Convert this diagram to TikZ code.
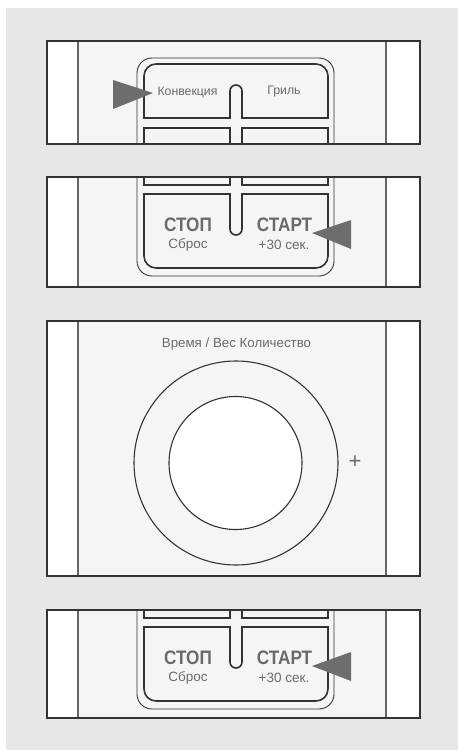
\documentclass[tikz,border=0pt]{standalone}
\usepackage{fontspec}
\setmainfont{Liberation Sans}
\definecolor{pagegray}{HTML}{E6E7E6}
\definecolor{panelfill}{HTML}{F5F5F5}
\definecolor{edge}{HTML}{333333}
\definecolor{stripline}{HTML}{666666}
\definecolor{txt}{HTML}{6A6A6A}
\definecolor{tri}{HTML}{6D6D6D}
\tikzset{
  keyline/.style={draw=edge, line width=1.6pt, fill=panelfill},
  outerline/.style={draw=edge, line width=0.9pt, fill=panelfill},
  lbl/.style={text=txt, inner sep=0pt, font=\fontsize{12.3}{12.3}\selectfont},
  sublbl/.style={text=txt, inner sep=0pt, font=\fontsize{13.5}{13.5}\selectfont},
  biglbl/.style={text=txt, inner sep=0pt, font=\fontsize{19.5}{19.5}\selectfont\bfseries},
  pointer/.style={fill=tri, draw=none},
}
\newcommand\drawcluster{%
  \draw[outerline, rounded corners=15pt] (137,58) rectangle (334,276);
  \draw[keyline] (144,118) -- (144,76) arc[start angle=180,end angle=270,radius=12]
    -- (316,64) arc[start angle=270,end angle=360,radius=12]
    -- (328,118) -- (242,118) -- (242,91) arc[start angle=0,end angle=-180,radius=6]
    -- (230,118) -- cycle;
  \draw[keyline] (144,128) rectangle (230,185);
  \draw[keyline] (242,128) rectangle (328,185);
  \draw[keyline] (144,194) -- (230,194) -- (230,229) arc[start angle=180,end angle=0,radius=6]
    -- (242,194) -- (328,194) -- (328,256) arc[start angle=0,end angle=90,radius=12]
    -- (156,268) arc[start angle=90,end angle=180,radius=12] -- cycle;
}
\newcommand\panelback[2]{%
  \fill[white] (47,#1) rectangle (420,#2);
  \fill[panelfill] (78,#1) rectangle (386,#2);
}
\newcommand\panelfront[2]{%
  \draw[stripline, line width=1.4pt] (78,#1) -- (78,#2) (386,#1) -- (386,#2);
  \draw[edge, line width=1.1pt] (47,#1) rectangle (420,#2);
}
\begin{document}
\begin{tikzpicture}[x=1pt,y=-1pt]
\useasboundingbox (0,0) rectangle (458,750);
\fill[white] (0,0) rectangle (458,750);
\fill[pagegray] (6,8) rectangle (458,750);

% panel 1
\panelback{41}{144}
\begin{scope}
  \clip (47,41) rectangle (420,144);
  \drawcluster
\end{scope}
\panelfront{41}{144}
\node[lbl] (konv) at (187.5,92) {Конвекция};
\node[lbl] (gril) at (284,92) {Гриль};
\fill[pointer] (113,80) -- (153,93) -- (113,109) -- cycle;

% panel 2
\panelback{177}{287}
\begin{scope}
  \clip (47,177) rectangle (420,287);
  \drawcluster
\end{scope}
\panelfront{177}{287}
\node[biglbl] (stop1) at (188,225) {\scalebox{0.88}[1]{СТОП}};
\node[sublbl] (sbros1) at (188,245) {Сброс};
\node[biglbl] (start1) at (284.5,225) {\scalebox{0.88}[1]{СТАРТ}};
\node[sublbl] (plus1) at (284,245) {+30 сек.};
\fill[pointer] (351,220) -- (312,233) -- (351,249) -- cycle;

% panel 3
\panelback{321}{576}
\panelfront{321}{576}
\node[lbl, font=\fontsize{13.3}{13.3}\selectfont] (vremya) at (236.5,344) {Время / Вес Количество};
\draw[edge, line width=1.1pt] (236,463) circle[radius=102];
\draw[edge, line width=1.1pt, fill=white] (235.5,463) circle[radius=66.5];
\node[lbl, font=\fontsize{22}{22}\selectfont] (plus) at (355,462) {+};

% panel 4
\panelback{610}{718}
\begin{scope}
  \clip (47,610) rectangle (420,718);
  \begin{scope}[shift={(0,433)}]
    \drawcluster
  \end{scope}
\end{scope}
\panelfront{610}{718}
\node[biglbl] (stop2) at (188,658) {\scalebox{0.88}[1]{СТОП}};
\node[sublbl] (sbros2) at (188,678) {Сброс};
\node[biglbl] (start2) at (284.5,658) {\scalebox{0.88}[1]{СТАРТ}};
\node[sublbl] (plus2) at (284,678) {+30 сек.};
\fill[pointer] (351,652) -- (312,666) -- (351,681) -- cycle;
\end{tikzpicture}
\end{document}
